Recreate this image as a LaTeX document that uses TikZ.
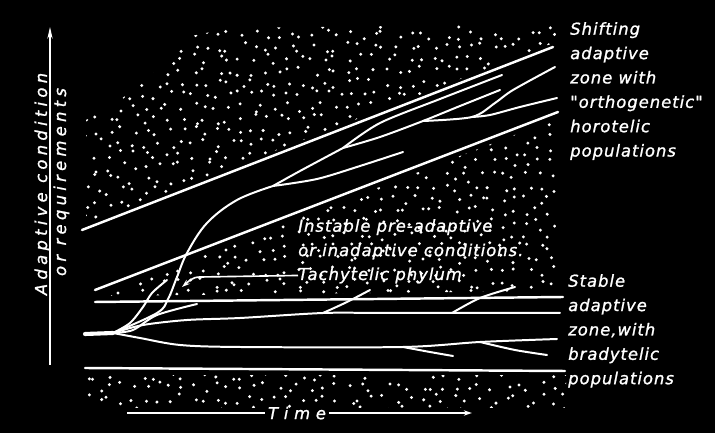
\documentclass[tikz,border=0pt]{standalone}
\usepackage{fontspec}
\setmainfont{DejaVu Sans}
\newfontfamily\handfont{DejaVu Sans}[LetterSpace=6, FakeBold=1.2]
\newfontfamily\axisfont{DejaVu Sans}[LetterSpace=26, FakeBold=1.2]
\newfontfamily\timefont{DejaVu Sans}[LetterSpace=35, FakeBold=1.2]
\usetikzlibrary{arrows.meta}

\begin{document}
\begin{tikzpicture}[
            x=0.03cm, y=-0.03cm,
            >={Stealth[length=7pt, width=4.5pt]},
            zone/.style={white, line width=2.1pt, line cap=round},
            branch/.style={white, line width=1.7pt, line cap=round, line join=round},
            axisline/.style={white, line width=1.4pt},
            note/.style={white, inner sep=0pt, align=left, anchor=north west, font=\handfont\itshape\fontsize{14pt}{20.8pt}\selectfont},
            axislabel/.style={white, inner sep=0pt, rotate=90, anchor=base, font=\axisfont\itshape\fontsize{14pt}{17pt}\selectfont},
            dot/.style={white}
        ]

        % background, fixes the page size
        \fill[black] (0,0) rectangle (715,433);
        \pgfmathsetseed{17}

        % ==========================================
        % STIPPLED AREAS
        % ==========================================
        % above the shifting zone
        \begin{scope}
            \clip (86,224) -- (86,120) -- (120,100) -- (160,68) -- (182,38) -- (230,28) -- (556,24) -- (556,42) -- cycle;
            \foreach \i in {80,92,...,560}
                \foreach \j in {18,30,...,235}
                    \fill[dot] ({\i+10*rnd},{\j+10*rnd}) circle[radius=1.4pt];
        \end{scope}

        % instable pre-adaptive zone
        \begin{scope}
            \clip (97,296) -- (556,119) -- (556,291) -- (97,296) -- cycle;
            \foreach \i in {90,102,...,560}
                \foreach \j in {110,122,...,300}
                    \fill[dot] ({\i+10*rnd},{\j+10*rnd}) circle[radius=1.4pt];
        \end{scope}

        % below the stable zone
        \begin{scope}
            \clip (86,376) rectangle (566,408);
            \foreach \i in {80,92,...,566}
                \foreach \j in {370,382,...,410}
                    \fill[dot] ({\i+10*rnd},{\j+10*rnd}) circle[radius=1.4pt];
        \end{scope}

        % ==========================================
        % ZONE BOUNDARIES
        % ==========================================
        \draw[zone] (82,230) -- (553,47);
        \draw[zone] (95,290) -- (558,112);
        \draw[zone] (95,302) -- (563,297);
        \draw[zone] (85,368) -- (565,371);

        % ==========================================
        % PHYLUM
        % ==========================================
        \coordinate (trunk) at (113,333);
        \coordinate (j1) at (273,186);
        \coordinate (j2) at (343,148);
        \coordinate (j3) at (423,121);
        \coordinate (j4) at (472,117);
        \coordinate (m1) at (323,313);
        \coordinate (m2) at (452,313);
        \coordinate (b1) at (403,347);
        \coordinate (b2) at (480,342);

        \draw[white, line width=3.5pt, line cap=round] (85,334) -- (trunk);

        % tachytelic shift into the new zone
        \draw[branch] plot[smooth, tension=0.6] coordinates {(trunk) (157,313) (168,299) (177,277) (187,253) (207,223) (237,200) (j1)};
        \draw[branch] plot[smooth] coordinates {(j1) (300,171) (j2)};
        \draw[branch] plot[smooth] coordinates {(j1) (317,179) (360,166) (403,152)};
        \draw[branch] plot[smooth] coordinates {(j2) (380,123) (440,99) (502,75)};
        \draw[branch] plot[smooth] coordinates {(j2) (380,137) (j3) (460,106) (500,90)};
        \draw[branch] plot[smooth] coordinates {(j3) (j4) (495,103) (513,90) (555,67)};
        \draw[branch] plot[smooth] coordinates {(j4) (490,115) (520,107) (557,98)};

        % short side branches
        \draw[branch] plot[smooth] coordinates {(trunk) (130,323) (143,307) (152,293) (167,280)};
        \draw[branch] plot[smooth] coordinates {(trunk) (133,330) (157,315) (197,304)};

        % bradytelic lines in the stable zone
        \draw[branch] plot[smooth] coordinates {(trunk) (143,325) (187,320) (240,318) (m1) (380,313) (m2) (560,313)};
        \draw[branch] plot[smooth] coordinates {(m1) (347,302) (370,290)};
        \draw[branch] plot[smooth] coordinates {(m2) (480,298) (515,287)};
        \draw[branch] plot[smooth] coordinates {(trunk) (140,338) (180,345) (240,347) (b1) (b2) (557,339)};
        \draw[branch] plot[smooth] coordinates {(b1) (430,352) (453,356)};
        \draw[branch] plot[smooth] coordinates {(b2) (515,350) (547,355)};

        % ==========================================
        % LABELS
        % ==========================================
        \node[note] (shifting) at (570,22) {Shifting\\adaptive\\zone with\\"orthogenetic"\\horotelic\\populations};
        \node[note] (stable) at (568,274) {Stable\\adaptive\\zone,with\\bradytelic\\populations};
        \node[note] (instable) at (298,219) {Instable pre-adaptive\\or inadaptive conditions.};
        \node[note, anchor=base west] (tachy) at (298,280) {Tachytelic phylum};

        \coordinate (tip) at (182,287);
        \draw[axisline, ->] (tachy.west) -- (200,277) to[out=180, in=40] (tip);

        % ==========================================
        % AXES
        % ==========================================
        \coordinate (ybot) at (50,365);
        \coordinate (ytop) at (50,27);
        \draw[axisline, -{Stealth[length=10pt, width=4.5pt]}] (ybot) -- (ytop);
        \node[axislabel] (ylab1) at (47,184) {Adaptive condition};
        \node[axislabel] (ylab2) at (66,182) {or requirements};

        \node[white, inner sep=2pt, font=\timefont\itshape\fontsize{14pt}{17pt}\selectfont] (time) at (297,413) {Time};
        \coordinate (tstart) at (127,413);
        \coordinate (tend) at (472,413);
        \draw[axisline] (tstart) -- (time.west);
        \draw[axisline, ->] (time.east) -- (tend);

        \end{tikzpicture}
\end{document}
